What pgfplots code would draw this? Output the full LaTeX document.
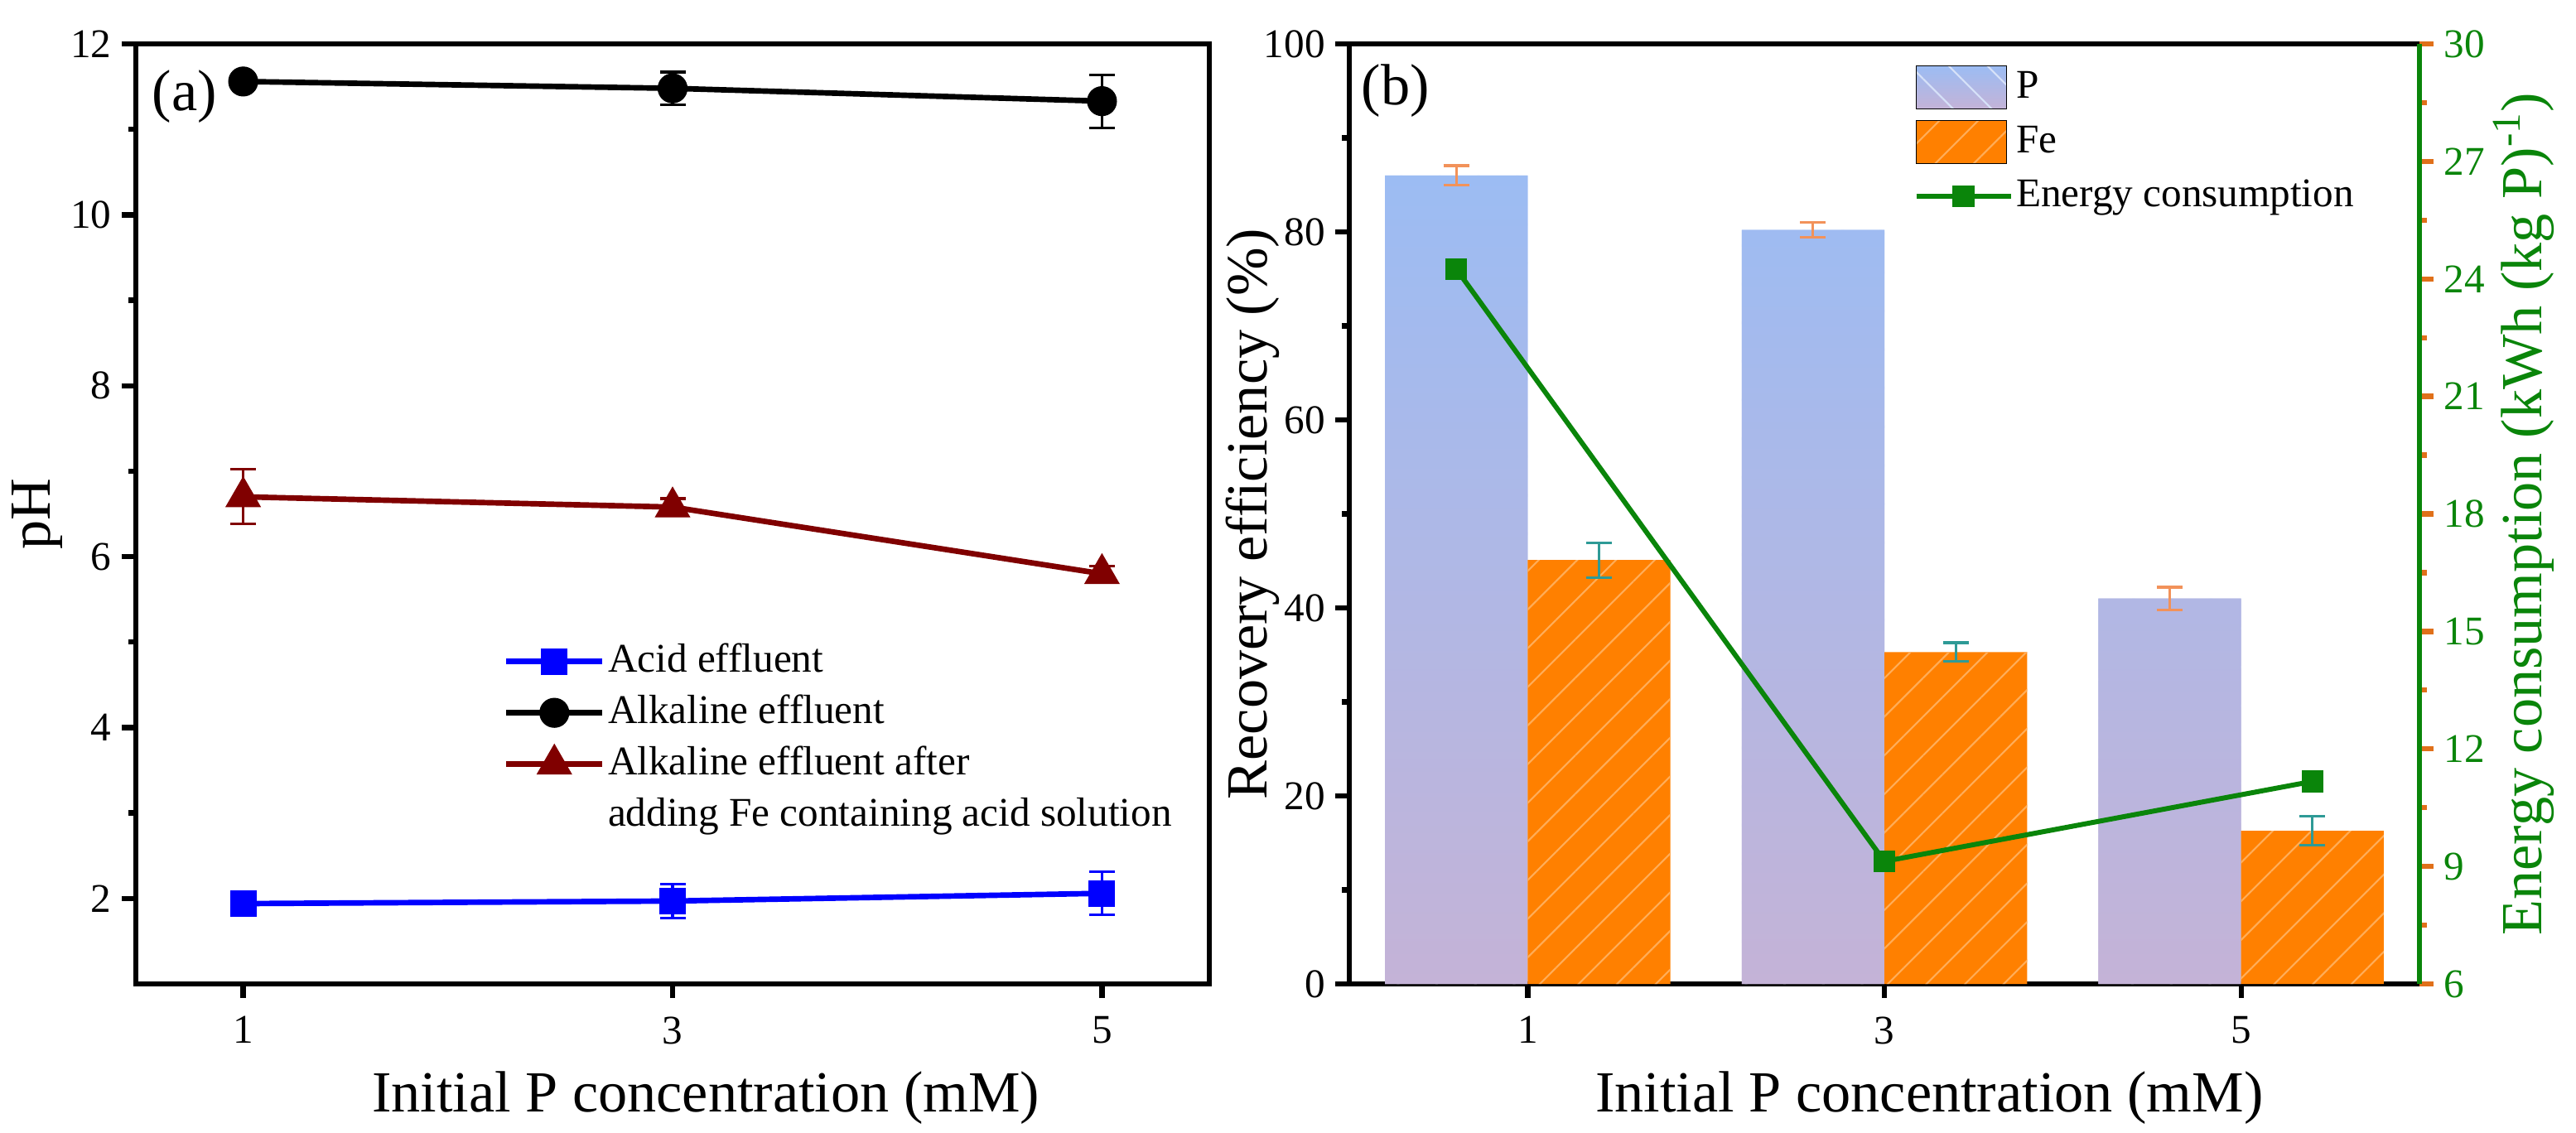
\documentclass[border=0pt]{standalone}
\usepackage{pgfplots}
\pgfplotsset{compat=1.18}
\usepackage{fontspec}
\setmainfont{Liberation Serif}
\usetikzlibrary{patterns.meta}
\definecolor{Ptop}{HTML}{9CBCF3}
\definecolor{Pbot}{HTML}{C4B3D7}
\definecolor{Phatch}{HTML}{D6E1F8}
\definecolor{FeOr}{HTML}{FF8000}
\definecolor{Fehatch}{HTML}{FFAD58}
\definecolor{Perr}{HTML}{F2925A}
\definecolor{Feerr}{HTML}{2E9A96}
\definecolor{EnG}{HTML}{0A850A}
\definecolor{TickOr}{HTML}{E0701A}
\definecolor{DarkRed}{HTML}{800000}
\pgfplotsset{
  common/.style={
    scale only axis, height=11.35cm,
    tick align=outside,
    /pgf/number format/assume math mode=true,
    tick label style={font=\fontsize{14}{16}\selectfont},
    xticklabel style={yshift=-0.1cm},
    label style={font=\fontsize{20}{24}\selectfont},
    axis line style={line width=1.8pt},
    major tick length=0.17cm, minor tick length=0.09cm,
    tick style={line width=1.8pt, black},
  },
  errb/.style={error bars/.cd, y dir=both, y explicit,
    error bar style={#1, line width=0.9pt},
    error mark options={rotate=90, #1, mark size=0.155cm, line width=0.9pt}},
}
\begin{document}
\begin{tikzpicture}
\useasboundingbox (0,0) rectangle (31.1cm,13.67cm);
% ---------------- panel (a)
\begin{axis}[common, at={(1.64cm,1.79cm)}, anchor=south west, width=12.96cm,
  xmin=0.5, xmax=5.5, ymin=1, ymax=12,
  xtick={1,3,5}, ytick={2,4,...,12}, minor ytick={3,5,...,11},
  xtick pos=bottom, ytick pos=left,
  xlabel={Initial P concentration (mM)}, ylabel={pH},
  xlabel style={at={(axis description cs:0.531,-0.1357)}, anchor=base},
  ylabel style={at={(axis description cs:-0.092,0.5)}, anchor=center},
  legend style={at={(axis description cs:0.342,0.371)}, anchor=north west,
    draw=none, fill=none, font=\fontsize{14}{16}\selectfont,
    inner sep=0pt, row sep=0pt, column sep=0pt,
    nodes={inner sep=1pt, text height=0.40cm, text depth=0.15cm}},
  legend cell align=left,
  legend image code/.code={\draw[mark repeat=2,mark phase=2,#1] plot coordinates {(0cm,0cm) (0.58cm,0cm) (1.16cm,0cm)};},
]
\addplot[blue, line width=1.9pt, mark=square*, mark size=4.4pt, mark options={blue, line width=0.3pt}, errb=blue]
  coordinates {(1,1.94) +- (0,0.04) (3,1.97) +- (0,0.20) (5,2.06) +- (0,0.25)};
\addlegendentry{Acid effluent}
\addplot[black, line width=1.9pt, mark=*, mark size=5pt, mark options={black, line width=0.3pt}, errb=black]
  coordinates {(1,11.56) +- (0,0.04) (3,11.48) +- (0,0.19) (5,11.33) +- (0,0.31)};
\addlegendentry{Alkaline effluent}
\addplot[DarkRed, line width=1.9pt, mark=triangle*, mark size=6.8pt, mark options={DarkRed, line width=0.3pt}, errb=DarkRed]
  coordinates {(1,6.70) +- (0,0.32) (3,6.58) +- (0,0.10) (5,5.80) +- (0,0.09)};
\addlegendentry{Alkaline effluent after}
\addlegendimage{empty legend}
\addlegendentry{adding Fe containing acid solution}
\node[anchor=west, inner sep=0pt, font=\fontsize{20}{24}\selectfont] at (axis description cs:0.0147,0.9436) {(a)};
\end{axis}
% ---------------- panel (b), left axis
\begin{axis}[common, at={(16.29cm,1.79cm)}, anchor=south west, width=12.92cm,
  xmin=0, xmax=6, ymin=0, ymax=100,
  xtick={1,3,5}, ytick={0,20,...,100}, minor ytick={10,30,...,90},
  xtick pos=bottom, ytick pos=left,
  xlabel={Initial P concentration (mM)}, ylabel={Recovery efficiency (\%)},
  xlabel style={at={(axis description cs:0.542,-0.1357)}, anchor=base},
  ylabel style={at={(axis description cs:-0.0906,0.5)}, anchor=center},
]
\addplot[ybar, bar width=0.8, bar shift=0pt, draw=none, top color=Ptop, bottom color=Pbot,
  postaction={pattern={Lines[angle=-45,distance=0.33cm,line width=0.6pt]}, pattern color=Phatch}]
  coordinates {(0.6,86.0) (2.6,80.2) (4.6,41.0)};
\addplot[ybar, bar width=0.8, bar shift=0pt, draw=none, fill=FeOr,
  postaction={pattern={Lines[angle=45,distance=0.33cm,line width=0.6pt]}, pattern color=Fehatch}]
  coordinates {(1.4,45.1) (3.4,35.3) (5.4,16.3)};
\addplot[draw=none, mark=none, forget plot, errb=Perr]
  coordinates {(0.6,86.0) +- (0,1.05) (2.6,80.2) +- (0,0.8) (4.6,41.0) +- (0,1.2)};
\addplot[draw=none, mark=none, forget plot, errb=Feerr]
  coordinates {(1.4,45.1) +- (0,1.85) (3.4,35.3) +- (0,1.0) (5.4,16.3) +- (0,1.55)};
\node[anchor=west, inner sep=0pt, font=\fontsize{20}{24}\selectfont] at (axis description cs:0.011,0.9498) {(b)};
\end{axis}
% ---------------- panel (b), right axis
\begin{axis}[common, at={(16.29cm,1.79cm)}, anchor=south west, width=12.92cm,
  xmin=0, xmax=6, ymin=6, ymax=30,
  axis x line=none, axis y line*=right,
  ytick={6,9,...,30}, minor ytick={7.5,10.5,...,28.5},
  y axis line style={EnG, line width=1.8pt, -},
  tick style={TickOr, line width=1.8pt},
  yticklabel style={EnG},
  ylabel={Energy consumption (kWh (kg P)\textsuperscript{-1})},
  ylabel style={EnG, at={(axis description cs:1.0975,0.5)}, anchor=center},
  legend style={at={(axis description cs:0.527,0.983)}, anchor=north west,
    draw=none, fill=none, font=\fontsize{14}{16}\selectfont,
    inner sep=0pt, row sep=0pt, column sep=0pt,
    nodes={inner sep=1pt, text height=0.42cm, text depth=0.165cm}},
  legend cell align=left,
  legend image code/.code={\draw[mark repeat=2,mark phase=2,#1] plot coordinates {(0cm,0cm) (0.57cm,0cm) (1.14cm,0cm)};},
]
\addlegendimage{legend image code/.code={\path[top color=Ptop, bottom color=Pbot,
  postaction={pattern={Lines[angle=-45,distance=0.33cm,line width=0.6pt]}, pattern color=Phatch}] (0cm,-0.26cm) rectangle (1.09cm,0.26cm);}}
\addlegendentry{P}
\addlegendimage{legend image code/.code={\path[fill=FeOr,
  postaction={pattern={Lines[angle=45,distance=0.33cm,line width=0.6pt]}, pattern color=Fehatch}] (0cm,-0.26cm) rectangle (1.09cm,0.26cm);}}
\addlegendentry{Fe}
\addplot[EnG, line width=1.7pt, mark=square*, mark size=3.6pt, mark options={EnG, line width=0.3pt}]
  coordinates {(0.6,24.25) (3,9.13) (5.4,11.17)};
\addlegendentry{Energy consumption}
\end{axis}
\end{tikzpicture}
\end{document}
